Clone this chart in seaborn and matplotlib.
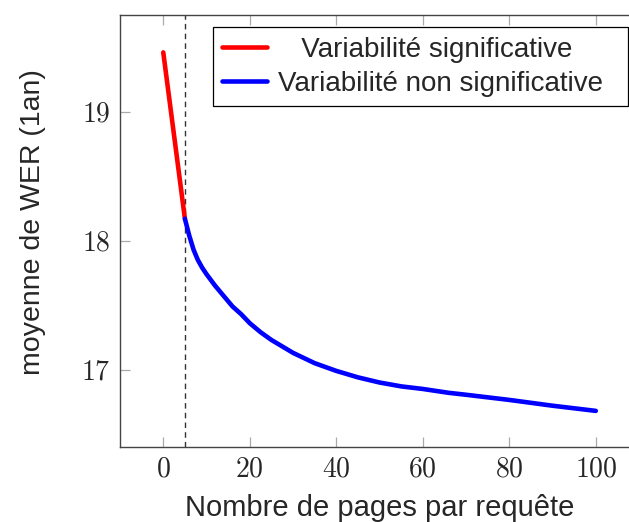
import numpy as np
import pandas as pd
import matplotlib
matplotlib.use("Agg")
import matplotlib.pyplot as plt
import seaborn as sns

# pages per query vs mean WER (1 year)
sig_pages = [0, 5]
sig_wer = [19.46, 18.17]

nonsig_pages = [5, 6, 7, 8, 9, 10, 12, 14, 16, 18, 20, 22.5, 25, 30, 35, 40, 45,
                50, 55, 60, 66, 70, 80, 90, 100]
nonsig_wer = [18.17, 18.04, 17.93, 17.85, 17.79, 17.74, 17.65, 17.57, 17.49, 17.43,
              17.36, 17.29, 17.23, 17.13, 17.05, 16.99, 16.94, 16.90, 16.87, 16.85,
              16.82, 16.805, 16.765, 16.72, 16.68]

x_ticks = [0, 20, 40, 60, 80, 100]
y_ticks = [17, 18, 19]
threshold = 5

SIG = "Variabilité significative"
NONSIG = "Variabilité non significative"

sns.set_theme(style="white")
plt.rcParams["font.family"] = ["Liberation Sans", "DejaVu Sans"]
plt.rcParams["mathtext.fontset"] = "cm"

df = pd.concat([
    pd.DataFrame({"pages": sig_pages, "wer": sig_wer, "group": SIG}),
    pd.DataFrame({"pages": nonsig_pages, "wer": nonsig_wer, "group": NONSIG}),
])

fig = plt.figure(figsize=(6.29, 5.22), dpi=100)
ax = fig.add_axes([0.1908, 0.1437, 0.8252, 0.8276])

sns.lineplot(data=df, x="pages", y="wer", hue="group",
             palette={SIG: "#ff0000", NONSIG: "#0000ff"},
             linewidth=3.3, ax=ax, sort=False)
ax.axvline(threshold, color="#333333", lw=1, ls=(0, (4, 3)), zorder=1)

ax.set_xlim(-10, 110)
ax.set_ylim(16.40, 19.75)
ax.set_xticks(x_ticks)
ax.set_xticklabels([f"${t}$" for t in x_ticks], fontsize=20)
ax.set_yticks(y_ticks)
ax.set_yticklabels([f"${t}$" for t in y_ticks], fontsize=20)
ax.tick_params(direction="in", length=7.5, width=0.9, color="#aaaaaa",
               top=True, right=True, bottom=True, left=True, pad=7)

for s in ax.spines.values():
    s.set_color("#444444")
    s.set_linewidth(1)

ax.set_xlabel("Nombre de pages par requête", fontsize=21, labelpad=8)
ax.set_ylabel("moyenne de WER (1an)", fontsize=20.5, labelpad=25)
ax.yaxis.label.set_y(0.52)

handles, labels = ax.get_legend_handles_labels()
# first entry appears centred in its column in the original; extra right margin
labels = [("   " + l if l == SIG else l) + "  " for l in labels]
leg = ax.legend(handles, labels, loc="upper right", fontsize=20, frameon=True,
                fancybox=False, edgecolor="black", framealpha=1,
                handlelength=1.6, borderpad=0.35, labelspacing=0.28,
                handletextpad=0.4, borderaxespad=0,
                bbox_to_anchor=(0.979, 0.972))
leg.get_frame().set_linewidth(0.9)
for line in leg.get_lines():
    line.set_linewidth(3.3)

fig.savefig("out.png", dpi=100)
